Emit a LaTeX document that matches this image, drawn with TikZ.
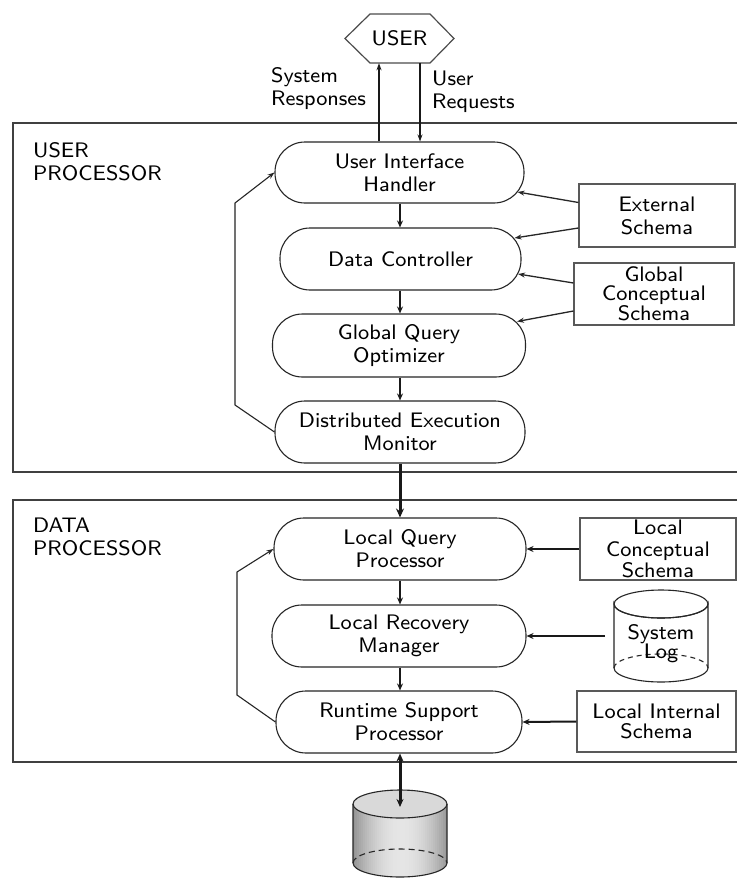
\documentclass[tikz,border=0pt]{standalone}
\usepackage{fontspec}
\newfontfamily\eightsans{lmsans8-regular}[Extension=.otf]
\usetikzlibrary{arrows.meta,calc}
\begin{document}
\begin{tikzpicture}[x=1pt,y=-1pt,
  every node/.style={font=\eightsans\fontsize{21}{23}\selectfont, text=black},
  proc/.style={draw=black!85, line width=1.1pt, rounded corners=30pt, minimum height=61pt, align=center, inner sep=0pt},
  schema/.style={draw=black!65, line width=1.1pt, align=center, inner sep=0pt},
  bigbox/.style={draw=black!75, line width=1.4pt},
  flow/.style={-{Stealth[length=7pt,width=6pt]}, line width=2pt, draw=black!90},
  mainflow/.style={-{Stealth[length=9pt,width=8pt]}, line width=3pt, draw=black!90},
  sarrow/.style={-{Stealth[length=7pt,width=5pt]}, line width=1.3pt, draw=black!85},
  harrow/.style={-{Stealth[length=7pt,width=6pt]}, line width=2pt, draw=black!90},
  fb/.style={-{Stealth[length=7pt,width=5pt]}, line width=1.1pt, draw=black!85},
  dbl/.style={{Stealth[length=8pt,width=7pt]}-{Stealth[length=8pt,width=7pt]}, line width=3pt, draw=black!90},
  uarrow/.style={-{Stealth[length=7pt,width=5pt]}, line width=1.6pt, draw=black!90},
  cyl/.style={draw=black!85, line width=1.1pt},
  hexline/.style={draw=black!70, line width=1.2pt}
]
\useasboundingbox (0,0) rectangle (737,878);
\fill[white] (0,0) rectangle (737,878);

% big boxes (open to the right edge)
\draw[bigbox] (737,123) -- (13,123) -- (13,472) -- (737,472);
\draw[bigbox] (737,500) -- (13,500) -- (13,762) -- (737,762);

% USER
\node[minimum width=109pt, minimum height=49pt, inner sep=0pt] (user) at (399.5,38.5) {USER};
\draw[hexline] (345,38.5) -- (370,14) -- (430,14) -- (454,38.5) -- (430,63) -- (370,63) -- cycle;

% labels
\node[anchor=west, align=left, inner sep=0pt] (sr) at (271,89) {System\\Responses};
\node[anchor=west, align=left, inner sep=0pt] (ur) at (432,92) {User\\Requests};
\node[anchor=north west, align=left, inner sep=0pt] (upl) at (33,142) {USER\\PROCESSOR};
\node[anchor=north west, align=left, inner sep=0pt] (dpl) at (33,518) {DATA\\PROCESSOR};

% process nodes
\node[proc, minimum width=249pt] (uih) at (399.5,172.5) {User Interface\\Handler};
\node[proc, minimum width=241pt, minimum height=62pt] (dc) at (400.5,259) {Data Controller};
\node[proc, minimum width=253pt, minimum height=63pt] (gqo) at (399,345.5) {Global Query\\Optimizer};
\node[proc, minimum width=250pt, minimum height=62pt] (dem) at (400,432) {Distributed Execution\\Monitor};
\node[proc, minimum width=252pt, minimum height=62pt] (lqp) at (400,549) {Local Query\\Processor};
\node[proc, minimum width=254pt, minimum height=62pt] (lrm) at (399,636) {Local Recovery\\Manager};
\node[proc, minimum width=246pt, minimum height=62pt] (rsp) at (399,722) {Runtime Support\\Processor};

% schema boxes
\node[schema, minimum width=156pt, minimum height=63pt] (es) at (657,215.5) {External\\Schema};
\node[schema, minimum width=160pt, minimum height=62pt, font=\eightsans\fontsize{21}{19}\selectfont] (gcs) at (654,294) {Global\\Conceptual\\Schema};
\node[schema, minimum width=156pt, minimum height=62pt, font=\eightsans\fontsize{21}{21.5}\selectfont] (lcs) at (658,549) {Local\\Conceptual\\Schema};
\node[schema, minimum width=159pt, minimum height=61pt, font=\eightsans\fontsize{21}{20}\selectfont] (lis) at (656.5,721.5) {Local Internal\\Schema};

% system log cylinder
\filldraw[cyl, fill=white] (614,604) -- (614,668) arc[start angle=180, end angle=0, x radius=47, y radius=14] -- (708,604) arc[start angle=0, end angle=180, x radius=47, y radius=14] -- cycle;
\draw[cyl] (661,604) ellipse[x radius=47, y radius=14];
\draw[cyl, dashed, dash pattern=on 5pt off 4pt] (614,668) arc[start angle=180, end angle=360, x radius=47, y radius=14];
\node[align=center, inner sep=0pt, font=\eightsans\fontsize{21}{19}\selectfont] (slog) at (661,644) {System\\Log};
\coordinate (slogtip) at (605,636);

% database
\begin{scope}
  \clip (353,804) -- (353,863) arc[start angle=180, end angle=0, x radius=47, y radius=14] -- (447,804) -- cycle;
  \foreach \i in {0,...,47} {
    \pgfmathsetmacro\shadeval{10+32*((\i-23.5)/23.5)^2}
    \fill[black!\shadeval] (353+2*\i,795) rectangle ++(2.2,90);
  }
\end{scope}
\fill[black!15] (400,804) ellipse[x radius=47, y radius=14];
\draw[cyl] (353,804) -- (353,863) arc[start angle=180, end angle=0, x radius=47, y radius=14] -- (447,804);
\draw[cyl] (400,804) ellipse[x radius=47, y radius=14];
\draw[cyl, dashed, dash pattern=on 6pt off 4pt] (353,863) arc[start angle=180, end angle=360, x radius=47, y radius=14];
\coordinate (dbtop) at (400,807);

% user arrows
\draw[uarrow] ([xshift=-20.5pt]uih.north) -- ([xshift=-20.5pt]user.south);
\draw[uarrow] ([xshift=20.5pt]user.south) -- ([xshift=20.5pt]uih.north);

% vertical flow (aligned on the common axis x = dem.south)
\draw[flow] (uih.south -| dem.south) -- (dc.north -| dem.south);
\draw[flow] (dc.south -| dem.south) -- (gqo.north -| dem.south);
\draw[flow] (gqo.south -| dem.south) -- (dem.north);
\draw[mainflow] (dem.south) -- (lqp.north);
\draw[flow] (lqp.south) -- (lrm.north -| lqp.south);
\draw[flow] (lrm.south -| lqp.south) -- (rsp.north -| lqp.south);
\draw[dbl] (rsp.south -| lqp.south) -- (dbtop);

% schema arrows
\draw[sarrow] ([yshift=13pt]es.west) -- ([shift={(-7,19.5)}]uih.east);
\draw[sarrow] ([yshift=-12.5pt]es.west) -- ([shift={(-7,-21)}]dc.east);
\draw[sarrow] ([yshift=11pt]gcs.west) -- ([shift={(-3.5,15)}]dc.east);
\draw[sarrow] ([yshift=-17pt]gcs.west) -- ([shift={(-9,-24)}]gqo.east);

% data processor inputs
\draw[harrow] (lcs.west) -- (lqp.east);
\draw[harrow] (slogtip) -- (lrm.east);
\draw[harrow] (lis.west) -- (rsp.east);

% feedback loops
\draw[fb] (dem.west) -- (235,405) -- (235,203) -- (uih.west);
\draw[fb] (rsp.west) -- (237,695) -- (237,572) -- (lqp.west);
\end{tikzpicture}
\end{document}
